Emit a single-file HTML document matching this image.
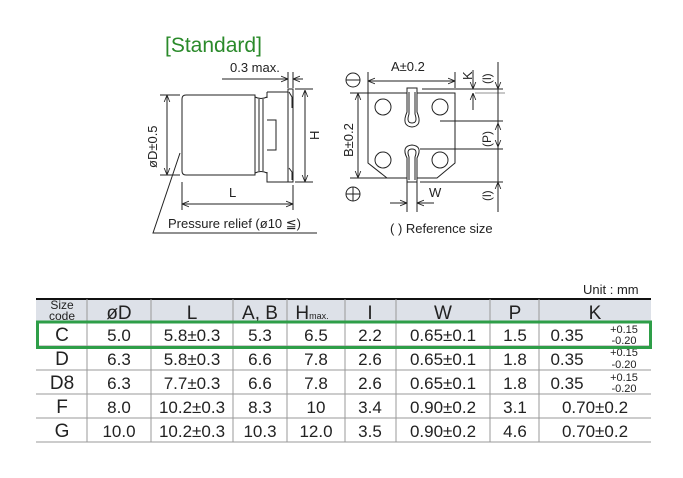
<!DOCTYPE html>
<html><head><meta charset="utf-8"><style>
html,body{margin:0;padding:0;background:#fff;}
svg{display:block;font-family:"Liberation Sans",sans-serif;}
.n{font-family:"Liberation Sans Narrow","Liberation Sans",sans-serif;}
</style></head><body>
<svg width="683" height="478" viewBox="0 0 683 478" xmlns="http://www.w3.org/2000/svg">
<defs>
<marker id="a" viewBox="0 0 10 10" refX="10" refY="5" markerWidth="7" markerHeight="7" orient="auto-start-reverse"><path d="M0,1 L10,5 L0,9" fill="none" stroke="#222" stroke-width="1.2"/></marker>
</defs>
<text x="165" y="52" font-size="21" fill="#2a8a2a">[Standard]</text>
<g stroke="#222" stroke-width="1" fill="none">
<path d="M186,95 H255 V175 H186 Q182,175 182,171 V99 Q182,95 186,95 Z" fill="#fff"/>
<path d="M255,97 Q261,100 267,97 M255,173 Q261,170 267,173 M259,99 V171 M263,99 V171"/>
<path d="M267,92 H288 V182 H267 V172 M267,92 V98 M267,120 H276 V150 H267"/>
<path d="M288,89 H293 V182 H288 Z M289,92 L292,97 V108 M289,168 L292,172 V180"/>
<line x1="167" y1="95" x2="167" y2="175" marker-start="url(#a)" marker-end="url(#a)"/>
<line x1="160" y1="95" x2="180" y2="95"/><line x1="160" y1="175" x2="180" y2="175"/>
<line x1="305" y1="90" x2="305" y2="182" marker-start="url(#a)" marker-end="url(#a)"/>
<line x1="295" y1="89" x2="313" y2="89"/><line x1="295" y1="182" x2="313" y2="182"/>
<line x1="182" y1="204" x2="293" y2="204" marker-start="url(#a)" marker-end="url(#a)"/>
<line x1="182" y1="182" x2="182" y2="210"/><line x1="293" y1="185" x2="293" y2="210"/>
<line x1="222" y1="79" x2="288" y2="79" marker-end="url(#a)"/>
<line x1="303" y1="79" x2="293" y2="79" marker-end="url(#a)"/>
<line x1="288" y1="72" x2="288" y2="88"/><line x1="293" y1="72" x2="293" y2="88"/>
<path d="M180,153 L153,233 H317"/>
<path d="M368,93 H455 V163 L437,178 H387 L368,163 Z" fill="#fff"/>
<circle cx="383" cy="107" r="8"/><circle cx="440" cy="107" r="8"/>
<circle cx="383" cy="160" r="8"/><circle cx="440" cy="160" r="8"/>
<path d="M407,88 H417 V112 Q423,126 412,127 Q401,126 407,112 Z" fill="#fff"/>
<path d="M409,92 V114 Q406,123 412,123 Q418,123 415,114 V92"/>
<path d="M407,182 V158 Q401,146 412,145 Q423,146 417,158 V182 Z" fill="#fff"/>
<path d="M409,180 V157 Q406,149 412,149 Q418,149 415,157 V180"/>
<line x1="368" y1="81" x2="455" y2="81" marker-start="url(#a)" marker-end="url(#a)"/>
<line x1="368" y1="72" x2="368" y2="93"/><line x1="455" y1="72" x2="455" y2="88"/>
<line x1="358" y1="93" x2="358" y2="178" marker-start="url(#a)" marker-end="url(#a)"/>
<line x1="350" y1="93" x2="368" y2="93"/><line x1="350" y1="178" x2="387" y2="178"/>
<circle cx="353" cy="80" r="7"/><line x1="346" y1="80" x2="360" y2="80"/>
<circle cx="353" cy="194" r="7"/><line x1="346" y1="194" x2="360" y2="194"/><line x1="353" y1="187" x2="353" y2="201"/>
<line x1="498" y1="62" x2="498" y2="212"/>
<line x1="422" y1="89" x2="503" y2="89"/>
<line x1="440" y1="121" x2="503" y2="121"/>
<line x1="420" y1="149" x2="503" y2="149"/>
<line x1="420" y1="182" x2="503" y2="182"/>
<line x1="475" y1="93" x2="505" y2="93" stroke-width="0.6"/>
<line x1="473" y1="70" x2="473" y2="89" marker-end="url(#a)"/>
<line x1="473" y1="110" x2="473" y2="93" marker-end="url(#a)"/>
<line x1="498" y1="123" x2="498" y2="147" marker-start="url(#a)" marker-end="url(#a)"/>
<line x1="498" y1="62" x2="498" y2="89" marker-end="url(#a)"/>
<line x1="498" y1="210" x2="498" y2="182" marker-end="url(#a)"/>
<line x1="407" y1="182" x2="407" y2="212"/><line x1="417" y1="182" x2="417" y2="212"/>
<line x1="390" y1="203" x2="407" y2="203" marker-end="url(#a)"/>
<line x1="434" y1="203" x2="417" y2="203" marker-end="url(#a)"/>
</g>
<g font-size="13" fill="#222">
<text x="230" y="72">0.3 max.</text>
<text x="229" y="197">L</text>
<text x="0" y="0" transform="translate(157,168) rotate(-90)">øD±0.5</text>
<text x="0" y="0" transform="translate(319,140) rotate(-90)">H</text>
<text x="168" y="228">Pressure relief (ø10 ≦)</text>
<text x="391" y="71">A±0.2</text>
<text x="0" y="0" transform="translate(353,157) rotate(-90)">B±0.2</text>
<text x="0" y="0" transform="translate(472,80) rotate(-90)">K</text>
<text x="0" y="0" transform="translate(491,84) rotate(-90)" font-size="12">(l)</text>
<text x="0" y="0" transform="translate(491,147) rotate(-90)" font-size="12">(P)</text>
<text x="0" y="0" transform="translate(491,201) rotate(-90)" font-size="12">(l)</text>
<text x="429" y="197">W</text>
<text x="390" y="233">( ) Reference size</text>
<text x="583" y="294" font-size="13">Unit : mm</text>
</g>
<rect x="36" y="299" width="615" height="23" fill="#dde1e8"/>
<line x1="36" y1="299" x2="651" y2="299" stroke="#111" stroke-width="2"/>
<g stroke="#999" stroke-width="1">
<line x1="36" y1="322" x2="651" y2="322"/><line x1="36" y1="346" x2="651" y2="346"/>
<line x1="36" y1="370" x2="651" y2="370"/><line x1="36" y1="394" x2="651" y2="394"/>
<line x1="36" y1="418" x2="651" y2="418"/><line x1="36" y1="442" x2="651" y2="442"/>
<line x1="87" y1="299" x2="87" y2="442"/><line x1="151" y1="299" x2="151" y2="442"/>
<line x1="233" y1="299" x2="233" y2="442"/><line x1="287" y1="299" x2="287" y2="442"/>
<line x1="345" y1="299" x2="345" y2="442"/><line x1="396" y1="299" x2="396" y2="442"/>
<line x1="490" y1="299" x2="490" y2="442"/><line x1="539" y1="299" x2="539" y2="442"/>
</g>
<g class="n" fill="#222" text-anchor="middle" font-size="19">
<text x="62" y="309" font-size="12">Size</text><text x="62" y="320" font-size="12">code</text>
<text x="119" y="319">øD</text><text x="192" y="319">L</text><text x="260" y="319">A, B</text>
<text x="312" y="319">H<tspan font-size="9">max.</tspan></text>
<text x="370" y="319">I</text><text x="443" y="319">W</text><text x="515" y="319">P</text><text x="595" y="319">K</text>
</g>
<g class="n" fill="#222" text-anchor="middle" font-size="17">
<text x="62" y="341" font-size="19">C</text><text x="119" y="341">5.0</text><text x="192" y="341">5.8±0.3</text><text x="260" y="341">5.3</text><text x="316" y="341">6.5</text><text x="370" y="341">2.2</text><text x="443" y="341">0.65±0.1</text><text x="515" y="341">1.5</text><text x="567" y="341">0.35</text>
<text x="62" y="365" font-size="19">D</text><text x="119" y="365">6.3</text><text x="192" y="365">5.8±0.3</text><text x="260" y="365">6.6</text><text x="316" y="365">7.8</text><text x="370" y="365">2.6</text><text x="443" y="365">0.65±0.1</text><text x="515" y="365">1.8</text><text x="567" y="365">0.35</text>
<text x="62" y="389" font-size="19">D8</text><text x="119" y="389">6.3</text><text x="192" y="389">7.7±0.3</text><text x="260" y="389">6.6</text><text x="316" y="389">7.8</text><text x="370" y="389">2.6</text><text x="443" y="389">0.65±0.1</text><text x="515" y="389">1.8</text><text x="567" y="389">0.35</text>
<text x="62" y="413" font-size="19">F</text><text x="119" y="413">8.0</text><text x="192" y="413">10.2±0.3</text><text x="260" y="413">8.3</text><text x="316" y="413">10</text><text x="370" y="413">3.4</text><text x="443" y="413">0.90±0.2</text><text x="515" y="413">3.1</text><text x="595" y="413">0.70±0.2</text>
<text x="62" y="437" font-size="19">G</text><text x="119" y="437">10.0</text><text x="192" y="437">10.2±0.3</text><text x="260" y="437">10.3</text><text x="316" y="437">12.0</text><text x="370" y="437">3.5</text><text x="443" y="437">0.90±0.2</text><text x="515" y="437">4.6</text><text x="595" y="437">0.70±0.2</text>
</g>
<g class="n" fill="#222" text-anchor="middle" font-size="11">
<text x="624" y="333">+0.15</text><text x="624" y="344">-0.20</text>
<text x="624" y="356">+0.15</text><text x="624" y="368">-0.20</text>
<text x="624" y="381">+0.15</text><text x="624" y="392">-0.20</text>
</g>
<rect x="37.5" y="322" width="613" height="25.5" fill="none" stroke="#2e9e48" stroke-width="3"/>
</svg>
</body></html>
